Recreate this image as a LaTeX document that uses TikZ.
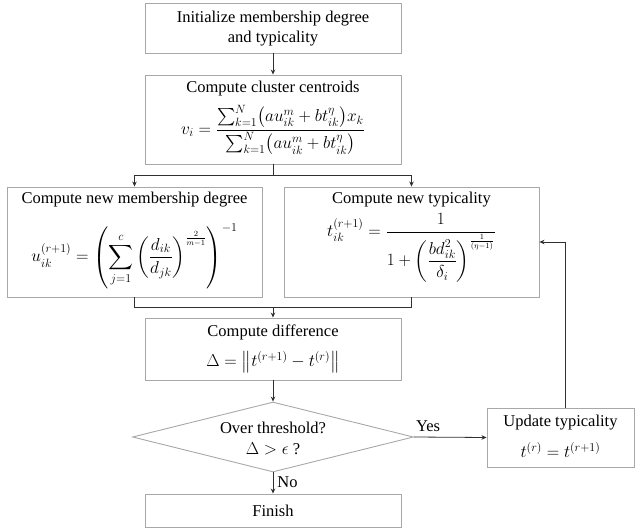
\documentclass[tikz,border=0pt]{standalone}
\usepackage{amsmath}
\usepackage{fontspec}
\setmainfont{Liberation Serif}
\usetikzlibrary{shapes.geometric,arrows.meta,calc}
\definecolor{boxgray}{HTML}{A8A8A8}
\definecolor{linegray}{HTML}{303030}
\begin{document}
\begin{tikzpicture}[x=1pt,y=-1pt,
  box/.style={draw=boxgray, line width=0.9pt, inner sep=0pt, rectangle},
  txt/.style={font=\fontsize{16.5}{20}\selectfont, inner sep=0pt, align=center},
  conn/.style={draw=linegray, line width=0.8pt},
  arr/.style={conn, -{Stealth[length=5pt,width=4.5pt]}}]
\useasboundingbox (0,0) rectangle (635,529);
% boxes
\node[box, minimum width=256, minimum height=50] (b1) at (273,28) {};
\node[box, minimum width=256, minimum height=89] (b2) at (273,119.5) {};
\node[box, minimum width=255, minimum height=110] (b3) at (134.5,242) {};
\node[box, minimum width=255, minimum height=110] (b4) at (411.5,242) {};
\node[box, minimum width=256, minimum height=62] (b5) at (273,349) {};
\node[diamond, draw=boxgray, line width=0.9pt, inner sep=0pt, minimum width=281, minimum height=70] (dia) at (273,437) {};
\node[box, minimum width=256, minimum height=33] (fin) at (273,510.5) {};
\node[box, minimum width=147, minimum height=59] (upd) at (560.5,437.5) {};
% texts
\node[txt] (t1) at (273,29) {Initialize membership degree\\and typicality};
\node[txt] (t2a) at (273,89) {Compute cluster centroids};
\node[txt] (t2b) at (273,130) {$v_i=\dfrac{\sum_{k=1}^{N}\bigl(a u_{ik}^{m}+b t_{ik}^{\eta}\bigr)x_k}{\sum_{k=1}^{N}\bigl(a u_{ik}^{m}+b t_{ik}^{\eta}\bigr)}$};
\node[txt] (t3a) at (134.5,200) {Compute new membership degree};
\node[txt] (t3b) at (134.5,256) {$u_{ik}^{(r+1)}=\left(\displaystyle\sum_{j=1}^{c}\left(\frac{d_{ik}}{d_{jk}}\right)^{\frac{2}{m-1}}\right)^{-1}$};
\node[txt] (t4a) at (411.5,200) {Compute new typicality};
\node[txt] (t4b) at (411.5,248) {$t_{ik}^{(r+1)}=\dfrac{1}{1+\left(\dfrac{b d_{ik}^{2}}{\delta_i}\right)^{\frac{1}{(\eta-1)}}}$};
\node[txt] (t5a) at (273,332) {Compute difference};
\node[txt] (t5b) at (273,362) {$\Delta=\bigl\|t^{(r+1)}-t^{(r)}\bigr\|$};
\node[txt] (tda) at (273,428) {Over threshold?};
\node[txt] (tdb) at (273,449) {$\Delta>\epsilon$ ?};
\node[txt] (tf) at (273,511) {Finish};
\node[txt] (tua) at (560.5,423) {Update typicality};
\node[txt] (tub) at (560.5,450) {$t^{(r)}=t^{(r+1)}$};
% connectors
\draw[arr] (b1.south) -- (b2.north);
\coordinate (split) at (273,175);
\draw[conn] (b2.south) -- (split);
\draw[arr] (split) -| (b3.north);
\draw[arr] (split) -| (b4.north);
\coordinate (merge) at (273,307);
\draw[conn] (b3.south) |- (merge);
\draw[conn] (b4.south) |- (merge);
\draw[arr] (merge) -- (b5.north);
\draw[arr] (b5.south) -- (dia.north);
\draw[arr] (dia.south) -- node[txt, right=4pt, pos=0.45] (lno) {No} (fin.north);
\draw[arr] (dia.east) -- (upd.west);
\node[txt, anchor=south west] (lyes) at ([xshift=2pt,yshift=5pt]dia.east) {Yes};
\draw[arr] ([xshift=4.5pt]upd.north) |- (b4.east);
\end{tikzpicture}
\end{document}
